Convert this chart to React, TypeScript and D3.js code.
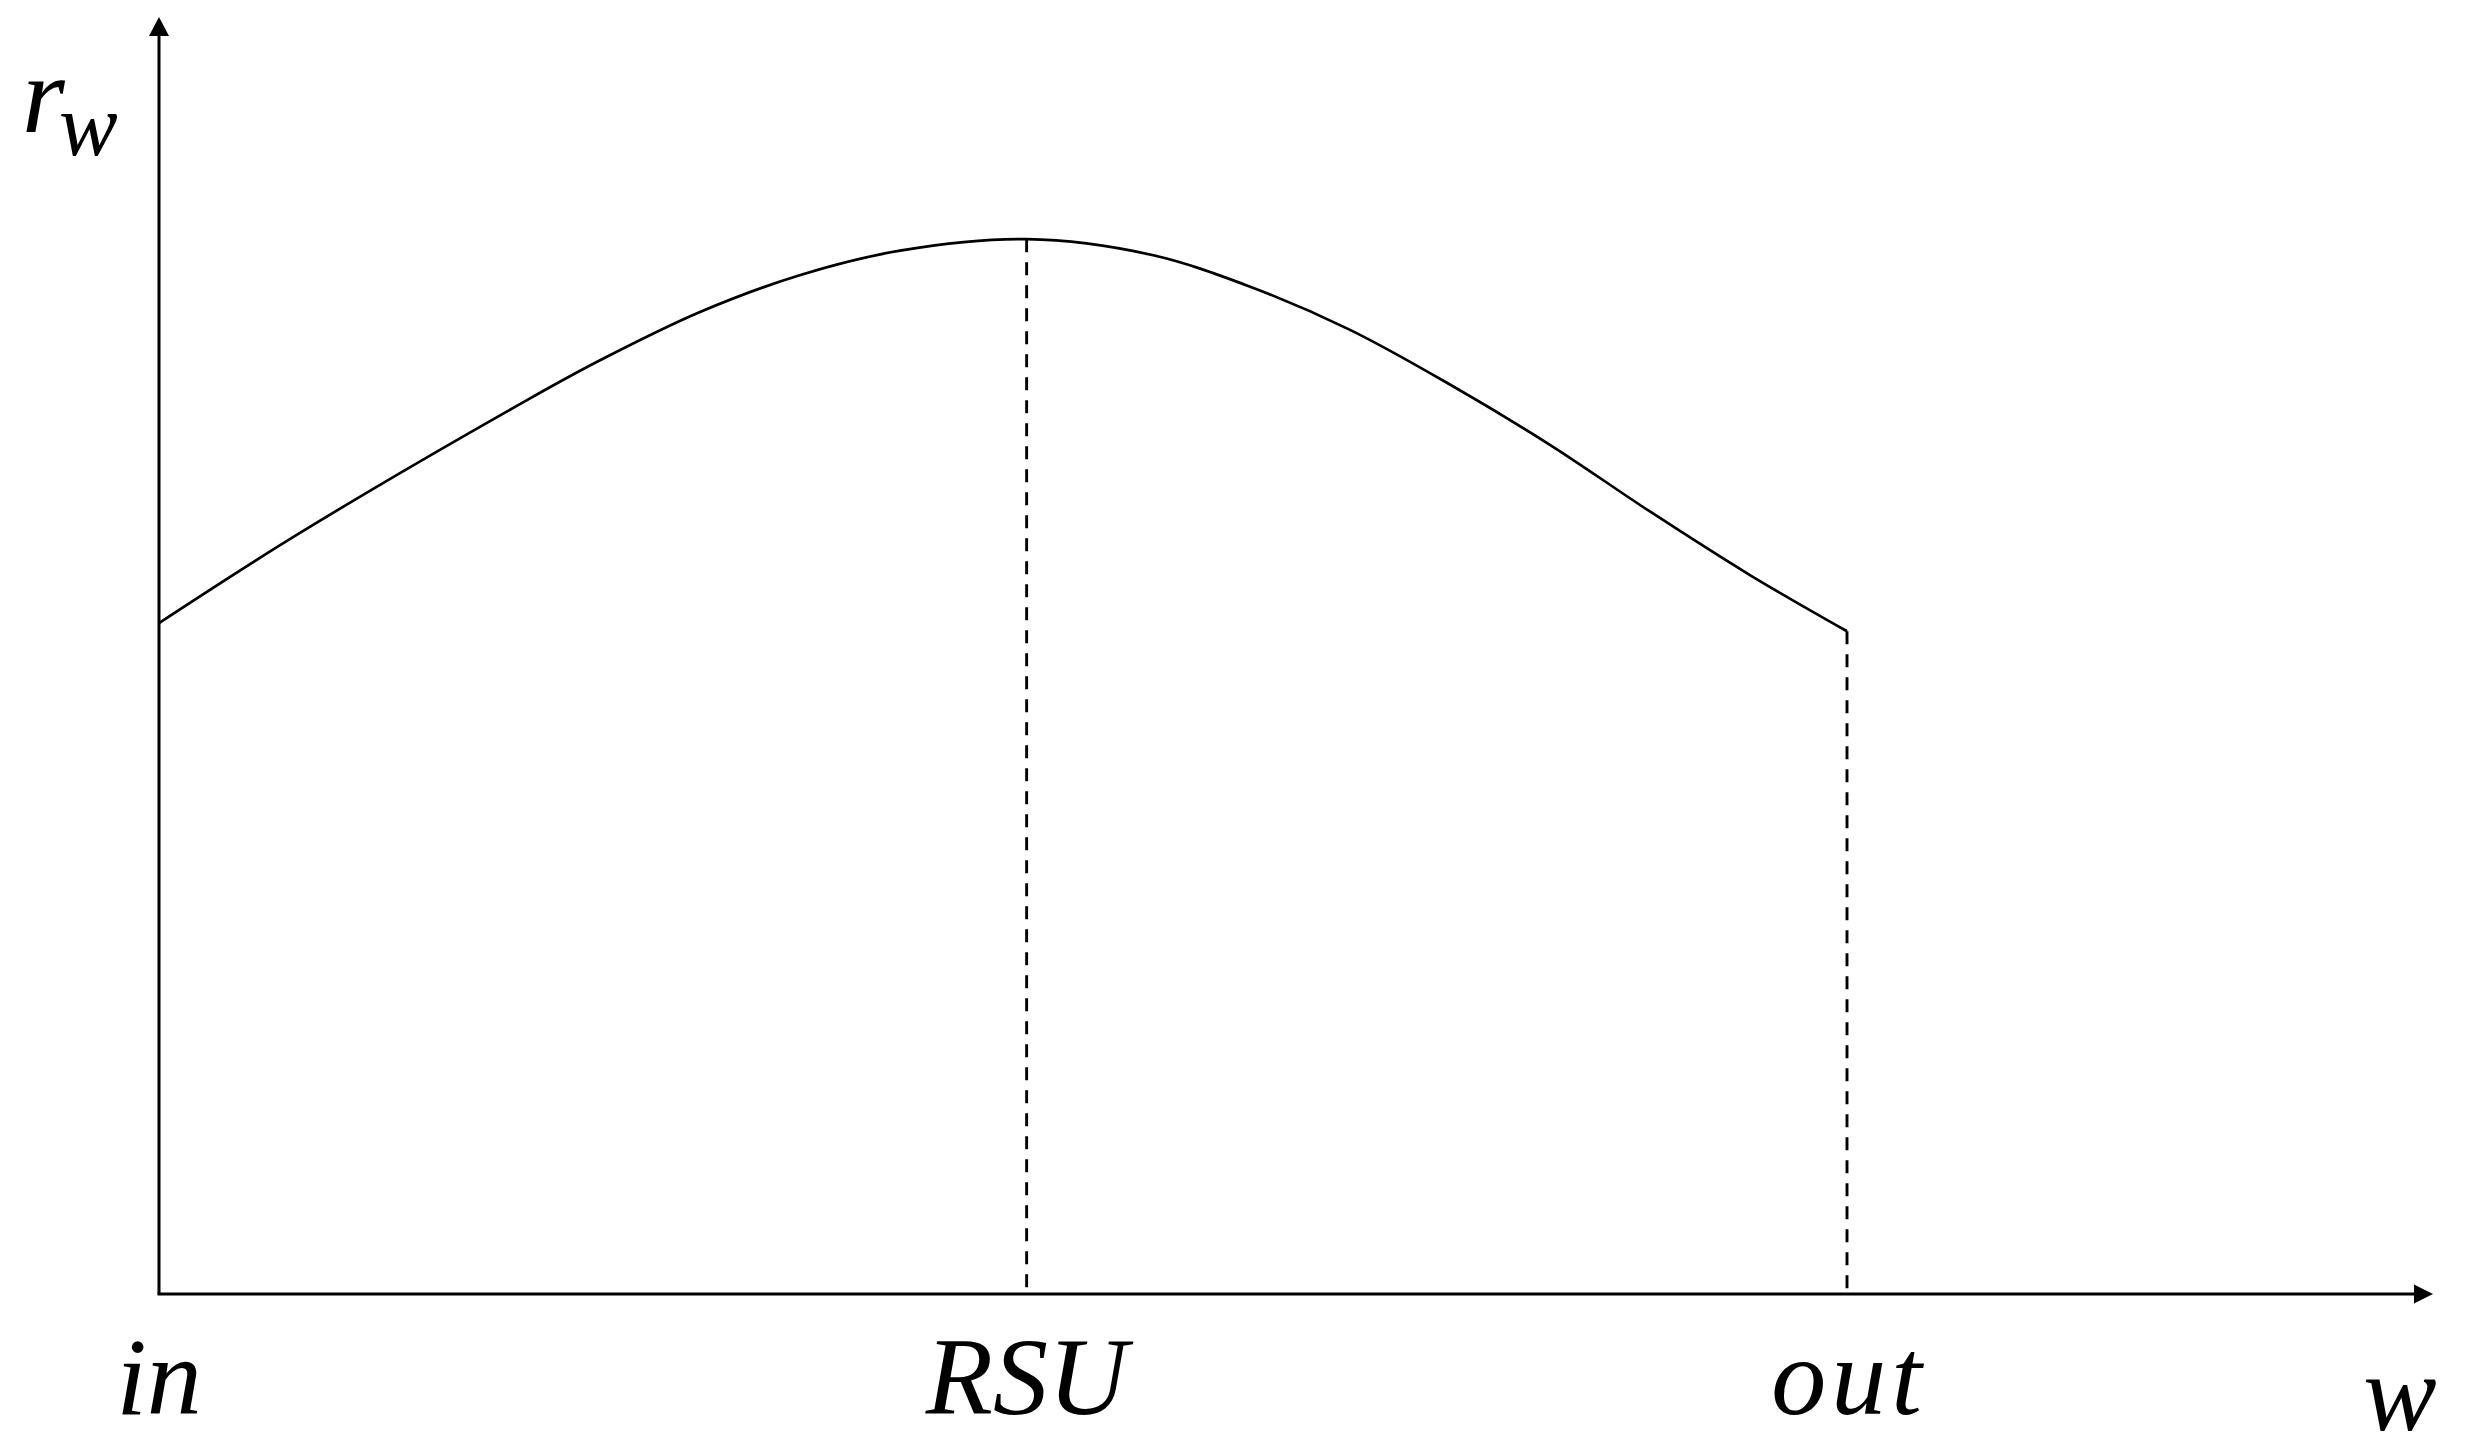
import React from "react";
import * as d3 from "d3";

// Curve samples: w position (in = 0, out = 1) and r_w value (axis height = 1)
const wValues = [0, 0.0835, 0.218, 0.261, 0.3205, 0.38, 0.439, 0.514, 0.587, 0.646, 0.7056, 0.765, 0.824, 0.883, 0.9425, 1.0];
const rValues = [0.5254, 0.596, 0.7, 0.731, 0.769, 0.798, 0.817, 0.826, 0.814, 0.789, 0.755, 0.712, 0.665, 0.613, 0.563, 0.519];

// Marked positions on the w axis
const markLabels = ["in", "RSU", "out"];
const markPositions = [0, 0.514, 1.0];
const dashedMarks = ["RSU", "out"];

const xAxisLabel = "w";
const yAxisLabel = "r";
const yAxisSub = "w";

const W = 2465;
const H = 1454;
const FONT = "'Liberation Serif', 'Times New Roman', serif";

export default function App() {
  const x = d3.scaleLinear().domain([0, 1]).range([159, 1847]);
  const y = d3.scaleLinear().domain([0, 1]).range([1294, 17]);

  const points: [number, number][] = wValues.map((w, i) => [w, rValues[i]]);
  const line = d3
    .line<[number, number]>()
    .x((d) => x(d[0]))
    .y((d) => y(d[1]))
    .curve(d3.curveCatmullRom.alpha(0.5));

  const valueAt = (w: number) => {
    const i = wValues.indexOf(w);
    if (i >= 0) return rValues[i];
    return d3.max(rValues) as number;
  };

  const x0 = x(0);
  const y0 = y(0);
  const xEnd = 2433;
  const yTop = y(1);

  return (
    <svg
      width={W}
      height={H}
      style={{ position: "absolute", left: 0, top: 0, background: "#fff" }}
    >
      <rect x={0} y={0} width={W} height={H} fill="#fff" />
      {/* dashed guides */}
      {markLabels.map((lab, i) =>
        dashedMarks.includes(lab) ? (
          <line
            key={"d" + lab}
            x1={x(markPositions[i])}
            x2={x(markPositions[i])}
            y1={y(valueAt(markPositions[i]))}
            y2={y0}
            stroke="#000"
            strokeWidth={2.9}
            strokeDasharray="13 10"
          />
        ) : null
      )}
      {/* curve */}
      <path d={line(points) || ""} fill="none" stroke="#000" strokeWidth={2.7} />
      {/* axes */}
      <line x1={x0} y1={y0} x2={x0} y2={yTop + 14} stroke="#000" strokeWidth={3} />
      <line x1={x0 - 1.5} y1={y0} x2={xEnd - 14} y2={y0} stroke="#000" strokeWidth={3} />
      <polygon
        points={`${x0},${yTop} ${x0 - 10},${yTop + 19} ${x0 + 10},${yTop + 19}`}
        fill="#000"
      />
      <polygon
        points={`${xEnd},${y0} ${xEnd - 19},${y0 - 9.5} ${xEnd - 19},${y0 + 9.5}`}
        fill="#000"
      />
      {/* position labels */}
      {markLabels.map((lab, i) => (
        <text
          key={lab}
          x={x(markPositions[i]) + (lab === "out" ? 2 : 0)}
          y={1414}
          textAnchor="middle"
          fontFamily={FONT}
          fontStyle="italic"
          fontSize={110}
          letterSpacing={lab === "out" ? 5 : 0}
          fill="#000"
        >
          {lab}
        </text>
      ))}
      {/* axis titles */}
      <text
        x={2400}
        y={1430}
        textAnchor="middle"
        fontFamily={FONT}
        fontStyle="italic"
        fontSize={110}
        fill="#000"
      >
        {xAxisLabel}
      </text>
      <text x={22} y={132} fontFamily={FONT} fontStyle="italic" fontSize={110} fill="#000">
        {yAxisLabel}
      </text>
      <text x={59} y={155} fontFamily={FONT} fontStyle="italic" fontSize={88} fill="#000">
        {yAxisSub}
      </text>
    </svg>
  );
}
